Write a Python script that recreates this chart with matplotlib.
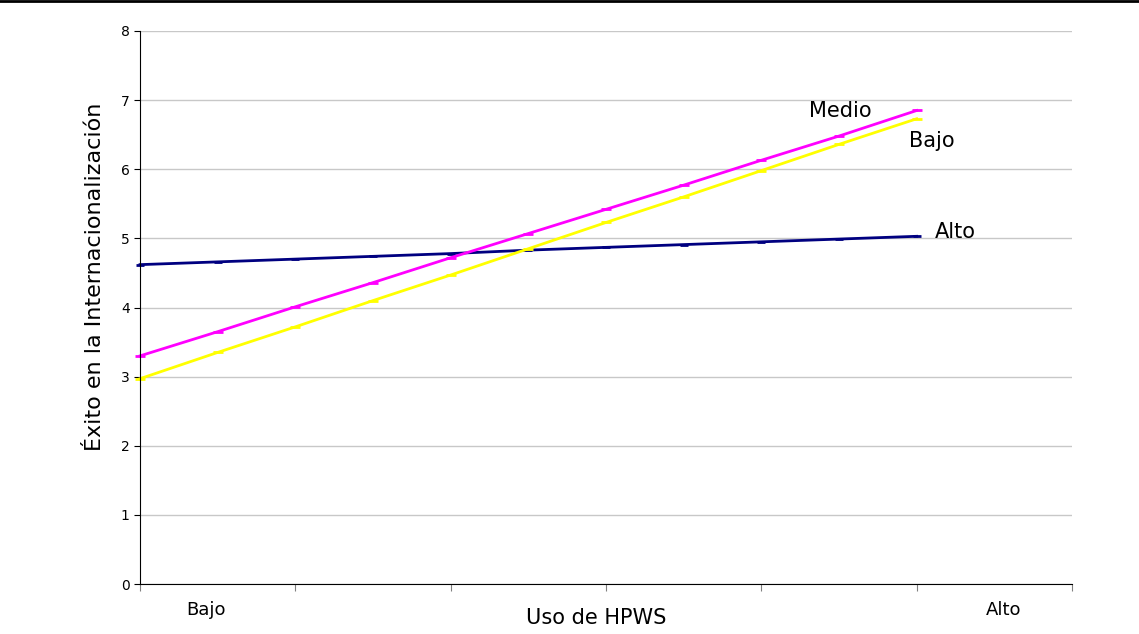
import matplotlib.pyplot as plt

# Data
x_pos = [0, 0.5, 1, 1.5, 2, 2.5, 3, 3.5, 4, 4.5, 5]
medio = [3.30, 3.65, 4.01, 4.36, 4.72, 5.07, 5.42, 5.77, 6.13, 6.48, 6.85]
bajo = [2.97, 3.35, 3.72, 4.10, 4.47, 4.85, 5.23, 5.60, 5.98, 6.36, 6.73]
alto = [4.62, 4.66, 4.70, 4.74, 4.78, 4.83, 4.87, 4.91, 4.95, 4.99, 5.03]
cat_labels = ["Bajo", "Alto"]
cat_label_pos = [0.425, 5.56]

W, H = 1139, 634
fig = plt.figure(figsize=(W / 100, H / 100), dpi=100)
ax = fig.add_axes([140 / W, 1 - 584 / H, 932 / W, 553 / H])

ax.plot(x_pos, alto, color='#000080', linewidth=2, marker='_', markersize=6,
        markeredgewidth=2, clip_on=False)
ax.plot(x_pos, medio, color='#ff00ff', linewidth=2, marker='_', markersize=7,
        markeredgewidth=2, clip_on=False)
ax.plot(x_pos, bajo, color='#ffff00', linewidth=2, marker='_', markersize=7,
        markeredgewidth=2, clip_on=False)

ax.set_xlim(0, 6)
ax.set_ylim(0, 8)
ax.set_yticks(range(0, 9))
ax.set_xticks(range(0, 7))
ax.set_xticklabels([])
ax.grid(axis='y', color='#c8c8c8', linewidth=1)
ax.set_axisbelow(True)
ax.spines['top'].set_visible(False)
ax.spines['right'].set_visible(False)
ax.tick_params(axis='y', labelsize=10, length=4, direction='out')
ax.tick_params(axis='x', length=5, direction='out', color='#808080')

for lab, p in zip(cat_labels, cat_label_pos):
    ax.text(p, -0.376, lab, ha='center', va='center', fontsize=13)

ax.text(4.51, 6.84, "Medio", fontsize=15, ha='center', va='center')
ax.text(5.10, 6.41, "Bajo", fontsize=15, ha='center', va='center')
ax.text(5.25, 5.09, "Alto", fontsize=15, ha='center', va='center')

fig.text(95 / W, 1 - 277 / H, "Éxito en la Internacionalización", fontsize=16,
         rotation=90, ha='center', va='center')
fig.text(596 / W, 1 - 618 / H, "Uso de HPWS", fontsize=15,
         ha='center', va='center')

# border line at top
fig.add_artist(plt.Line2D([0, 1], [0.999, 0.999], color='black', linewidth=2))

fig.savefig("out.png", dpi=100)
